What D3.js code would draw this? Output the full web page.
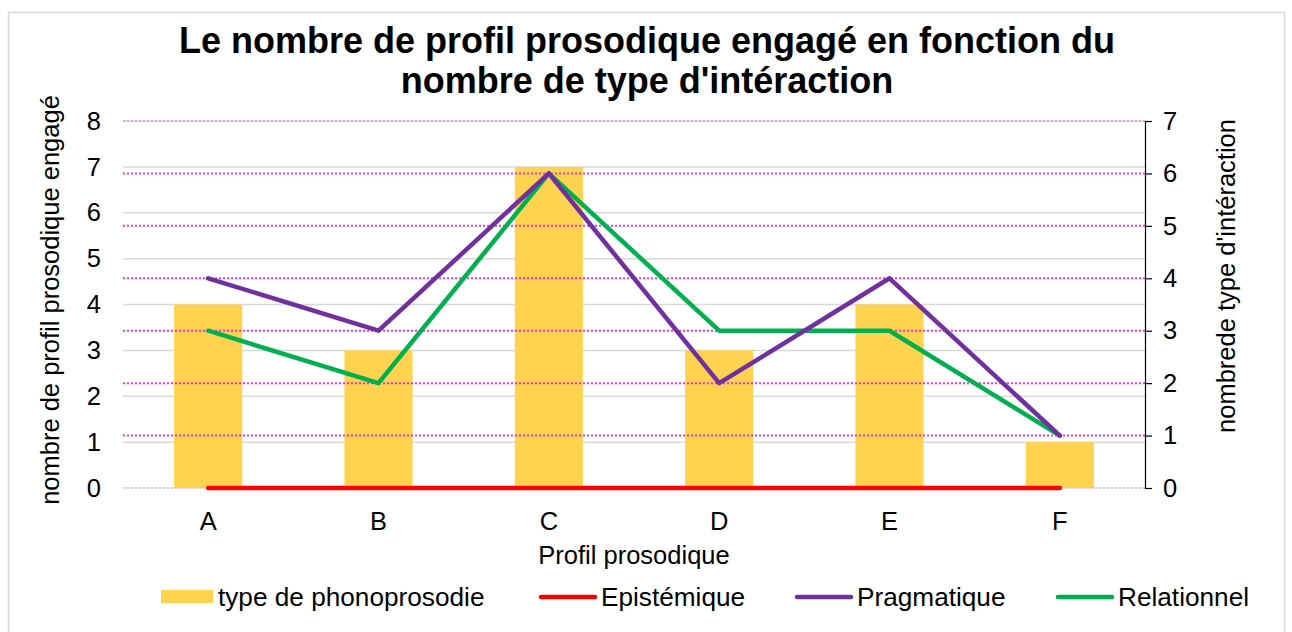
<!DOCTYPE html>
<html><head><meta charset="utf-8">
<script src="https://cdn.jsdelivr.net/npm/d3@7"></script>
<style>body{margin:0;background:#fff;font-family:"Liberation Sans",Arial,sans-serif}</style>
</head><body>
<svg id="c" width="1292" height="632"></svg>
<script>
const categories = ["A","B","C","D","E","F"];
const barValues = [4,3,7,3,4,1];           // type de phonoprosodie (left axis)
const epistemique = [0,0,0,0,0,0];         // right axis
const pragmatique = [4,3,6,2,4,1];
const relationnel = [3,2,6,3,3,1];
const leftTicks = [0,1,2,3,4,5,6,7,8];
const rightTicks = [0,1,2,3,4,5,6,7];

const svg = d3.select("#c");
const font = "'Liberation Sans', Arial, sans-serif";
const FS = 25.5;
const L = 123, R = 1145, T = 121, B = 488;

// border
svg.append("rect").attr("x",8.5).attr("y",12.5).attr("width",1276).attr("height",640)
  .attr("fill","none").attr("stroke","#d9d9d9").attr("stroke-width",1.5);

const x = d3.scaleBand().domain(categories).range([L,R]).paddingInner(0).paddingOuter(0);
const yL = d3.scaleLinear().domain([0,8]).range([B,T]);
const yR = d3.scaleLinear().domain([0,7]).range([B,T]);

// gray gridlines (left axis)
svg.append("g").selectAll("line").data(leftTicks.filter(d=>d>0)).join("line")
  .attr("x1",L).attr("x2",R).attr("y1",d=>yL(d)).attr("y2",d=>yL(d))
  .attr("stroke","#d9d9d9").attr("stroke-width",1.5);

// bars
const bw = x.bandwidth()*0.4;
svg.append("g").selectAll("rect").data(barValues).join("rect")
  .attr("x",(d,i)=>x(categories[i])+x.bandwidth()/2-bw/2)
  .attr("width",bw)
  .attr("y",d=>yL(d)).attr("height",d=>yL(0)-yL(d))
  .attr("fill","#FFD34F");

// pink dotted gridlines (right axis)
svg.append("g").selectAll("line").data(rightTicks).join("line")
  .attr("x1",L).attr("x2",R).attr("y1",d=>yR(d)).attr("y2",d=>yR(d))
  .attr("stroke","#F020D8").attr("stroke-opacity",d=>d===0||d===7?0.35:0.9)
  .attr("stroke-width",2).attr("stroke-dasharray","2,2");

// baseline subtle
svg.append("line").attr("x1",L).attr("x2",R).attr("y1",B).attr("y2",B)
  .attr("stroke","#d9d9d9").attr("stroke-width",1);

// right axis
const rAxis = svg.append("g").attr("transform",`translate(${R},0)`)
  .call(d3.axisRight(yR).tickValues(rightTicks).tickSize(7).tickPadding(11).tickFormat(d3.format("d")));
rAxis.select(".domain").attr("stroke","#000").attr("stroke-width",1.2);
rAxis.selectAll(".tick line").attr("stroke","#000").attr("stroke-width",1.2);
rAxis.selectAll("text").attr("font-family",font).attr("font-size",FS).attr("fill","#000");

// left axis labels
const lAxis = svg.append("g").attr("transform",`translate(${L},0)`)
  .call(d3.axisLeft(yL).tickValues(leftTicks).tickSize(0).tickPadding(22).tickFormat(d3.format("d")));
lAxis.select(".domain").remove();
lAxis.selectAll("text").attr("font-family",font).attr("font-size",FS).attr("fill","#000");

// x axis labels
const xAxis = svg.append("g").attr("transform",`translate(0,${B})`)
  .call(d3.axisBottom(x).tickSize(0).tickPadding(24));
xAxis.select(".domain").remove();
xAxis.selectAll("text").attr("font-family",font).attr("font-size",FS).attr("fill","#000");

// lines
const cx = i => x(categories[i])+x.bandwidth()/2;
const line = d3.line().x((d,i)=>cx(i)).y(d=>yR(d));
[[epistemique,"#FF0000"],[relationnel,"#00B050"],[pragmatique,"#7030A0"]].forEach(([data,col])=>{
  svg.append("path").datum(data).attr("d",line).attr("fill","none")
    .attr("stroke",col).attr("stroke-width",4.5).attr("stroke-linecap","round").attr("stroke-linejoin","round");
});

// title
svg.append("text").attr("x",647).attr("y",53).attr("text-anchor","middle")
  .attr("font-family",font).attr("font-size",36).attr("font-weight","bold")
  .text("Le nombre de profil prosodique engagé en fonction du");
svg.append("text").attr("x",647).attr("y",93).attr("text-anchor","middle")
  .attr("font-family",font).attr("font-size",36).attr("font-weight","bold")
  .text("nombre de type d'intéraction");

// axis titles
svg.append("text").attr("transform","translate(59,300) rotate(-90)").attr("text-anchor","middle")
  .attr("font-family",font).attr("font-size",FS).text("nombre de profil prosodique engagé");
svg.append("text").attr("transform","translate(1235,276) rotate(-90)").attr("text-anchor","middle")
  .attr("font-family",font).attr("font-size",FS).text("nombrede type d'intéraction");
svg.append("text").attr("x",634).attr("y",564).attr("text-anchor","middle")
  .attr("font-family",font).attr("font-size",FS).text("Profil prosodique");

// legend
const legend = [
  {label:"type de phonoprosodie", type:"bar", color:"#FFD34F", x:161},
  {label:"Epistémique", type:"line", color:"#FF0000", x:541},
  {label:"Pragmatique", type:"line", color:"#7030A0", x:797},
  {label:"Relationnel", type:"line", color:"#00B050", x:1058}
];
const lg = svg.append("g");
legend.forEach(d=>{
  if(d.type==="bar"){
    lg.append("rect").attr("x",d.x).attr("y",590).attr("width",52).attr("height",13).attr("fill",d.color);
  } else {
    lg.append("line").attr("x1",d.x).attr("x2",d.x+54).attr("y1",597).attr("y2",597)
      .attr("stroke",d.color).attr("stroke-width",4.5).attr("stroke-linecap","round");
  }
  lg.append("text").attr("x",d.type==="bar"?d.x+57:d.x+60).attr("y",606).attr("font-family",font).attr("font-size",26.2).text(d.label);
});
</script>
</body></html>
